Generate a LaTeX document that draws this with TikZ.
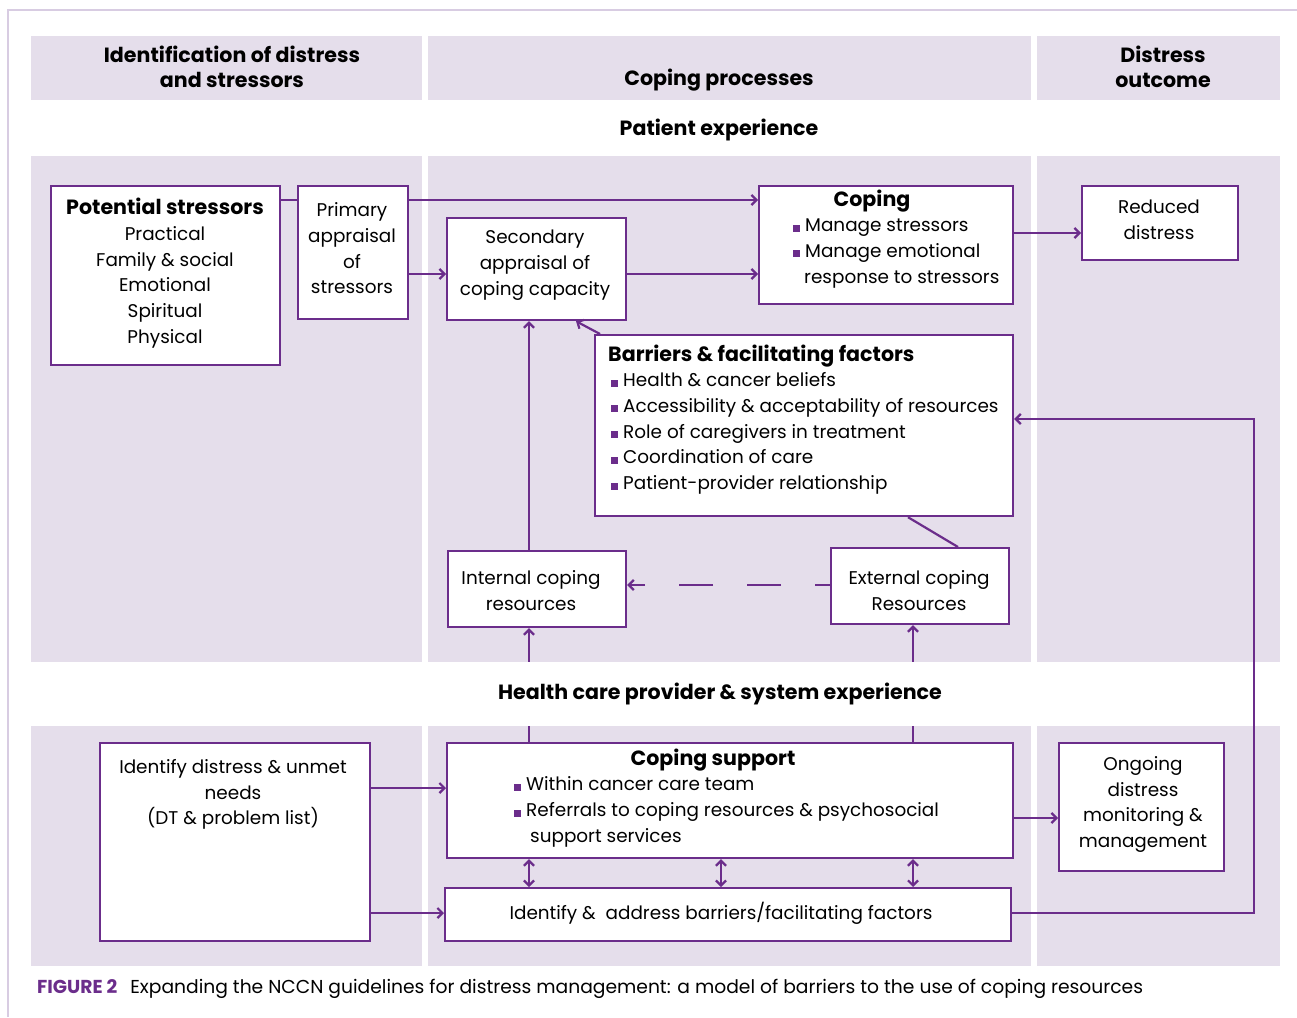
\documentclass[tikz,border=0pt]{standalone}
\usepackage{fontspec}
\setmainfont{Poppins}
\usetikzlibrary{arrows.meta,calc}
\definecolor{pc}{HTML}{6B2D8B}
\definecolor{bg}{HTML}{E5DEEB}
\definecolor{fr}{HTML}{D8CCE2}
\newcommand{\bul}{{\color{pc}\rule{7pt}{7pt}}\hspace{5pt}}
\begin{document}
\begin{tikzpicture}[x=1pt,y=-1pt,
  box/.style={draw=pc,line width=2.2pt,fill=white,inner sep=0pt,anchor=north west},
  txt/.style={inner sep=0pt,align=center,font=\fontsize{18.4}{25.7}\selectfont},
  lst/.style={inner sep=0pt,align=left,font=\fontsize{18.4}{25.7}\selectfont},
  hd/.style={inner sep=0pt,align=center,font=\fontsize{20.6}{25}\selectfont\bfseries},
  ln/.style={draw=pc,line width=2.2pt},
  arr/.style={ln,-{Straight Barb[length=5pt,width=10pt]}},
  darr/.style={ln,{Straight Barb[length=5pt,width=10pt]}-{Straight Barb[length=5pt,width=10pt]}}]
\useasboundingbox (0,0) rectangle (1297,1017);
\fill[white] (0,0) rectangle (1297,1017);
\draw[fr,line width=2pt] (8,1017) -- (8,10) -- (1297,10);
% panels
\foreach \ya/\yb in {36/100,156/662,726/966}{
  \fill[bg] (31,\ya) rectangle (422,\yb);
  \fill[bg] (428,\ya) rectangle (1031,\yb);
  \fill[bg] (1037,\ya) rectangle (1280,\yb);
}
% headers
\node[hd] (h1) at (232,66.5) {Identification of distress\\and stressors};
\node[hd] (h2) at (719,80.5) {Coping processes};
\node[hd] (h3) at (1163,66.5) {Distress\\outcome};
\node[hd] (pe) at (719,129.5) {Patient experience};
% boxes
\node[box,minimum width=229,minimum height=179] (ps) at (50,185) {};
\node[box,minimum width=110,minimum height=133] (pa) at (297,185) {};
\node[box,minimum width=179,minimum height=102] (sa) at (446,217) {};
\node[box,minimum width=254,minimum height=118] (cp) at (758,185) {};
\node[box,minimum width=156,minimum height=74] (rd) at (1081,185) {};
\node[box,minimum width=418,minimum height=181] (bf) at (594,334) {};
\node[box,minimum width=178,minimum height=76] (ic) at (447,550) {};
\node[box,minimum width=178,minimum height=76] (ec) at (830,547) {};
\node[box,minimum width=270,minimum height=198] (id) at (99,742) {};
\node[box,minimum width=566,minimum height=115] (cs) at (446,742) {};
\node[box,minimum width=165,minimum height=128] (og) at (1058,742) {};
\node[box,minimum width=566,minimum height=53] (ia) at (444,887) {};
% texts
\node[txt] (pst) at (165,273) {{\fontsize{20.6}{25.7}\selectfont\bfseries Potential stressors}\\Practical\\Family \& social\\Emotional\\Spiritual\\Physical};
\node[txt] (pat) at (352,248.5) {Primary\\appraisal\\of\\stressors};
\node[txt] (sat) at (535,265) {Secondary\\appraisal of\\coping capacity};
\node[hd] (cpt) at (872,201.5) {Coping};
\node[lst,anchor=west] (cpl) at (793,253.5) {\bul Manage stressors\\\bul Manage emotional\\\hspace*{11pt}response to stressors};
\node[txt] (rdt) at (1159,219.5) {Reduced\\distress};
\node[hd,anchor=west] (bft) at (608,356.5) {Barriers \& facilitating factors};
\node[lst,anchor=west] (bfl) at (611,433.5) {\bul Health \& cancer beliefs\\\bul Accessibility \& acceptability of resources\\\bul Role of caregivers in treatment\\\bul Coordination of care\\\bul Patient-provider relationship};
\node[txt] (ict) at (531,590.5) {Internal coping\\resources};
\node[txt] (ect) at (919,590.5) {External coping\\Resources};
\node[txt] (idt) at (233,794.5) {Identify distress \& unmet\\needs\\(DT \& problem list)};
\node[hd] (cst) at (713,760.5) {Coping support};
\node[lst,anchor=west] (csl) at (514,812) {\bul Within cancer care team\\\bul Referrals to coping resources \& psychosocial\\\hspace*{16pt}support services};
\node[txt] (ogt) at (1143,804.5) {Ongoing\\distress\\monitoring \&\\management};
\node[txt] (iat) at (721,913) {Identify \&\ \ address barriers/facilitating factors};
% connectors
\draw[ln] (ps.east |- 0,200) -- (pa.west |- 0,200);
\draw[arr] (pa.east |- 0,200) -- (cp.west |- 0,200);
\draw[arr] (pa.east |- 0,274) -- (sa.west |- 0,274);
\draw[arr] (sa.east |- 0,274) -- (cp.west |- 0,274);
\draw[arr] (cp.east |- 0,233) -- (rd.west |- 0,233);
\draw[arr] (bf.north -| 600,0) -- (sa.south -| 576,0);
\draw[ln] (ec.north -| 958,0) -- (bf.south -| 908,0);
\draw[arr,dash pattern=on 34pt off 34pt,dash phase=19pt] (ec.west |- 0,585) -- (ic.east |- 0,585);
\draw[arr] (ic.north -| 529,0) -- (sa.south -| 529,0);
\draw[arr] (cs.north -| 529,0) -- (ic.south -| 529,0);
\draw[arr] (cs.north -| 913,0) -- (ec.south -| 913,0);
\draw[arr] (id.east |- 0,788) -- (cs.west |- 0,788);
\draw[arr] (id.east |- 0,913) -- (ia.west |- 0,913);
\draw[arr] (cs.east |- 0,818) -- (og.west |- 0,818);
\foreach \x in {529,721,913}{\draw[darr] (cs.south -| \x,0) -- (ia.north -| \x,0);}
\draw[arr] (ia.east |- 0,913) -- (1254,913) -- (1254,419) -- (bf.east |- 0,419);
% band label covering lines
\node[hd,fill=white,minimum width=516,minimum height=64] (hc) at (720,694) {Health care provider \& system experience};
% caption
\node[inner sep=0pt,anchor=base west,font=\fontsize{18.7}{20}\selectfont] (cap) at (37,993) {{\color{pc}\bfseries FIGURE 2}\hspace{13pt}Expanding the NCCN guidelines for distress management: a model of barriers to the use of coping resources};
\end{tikzpicture}
\end{document}
